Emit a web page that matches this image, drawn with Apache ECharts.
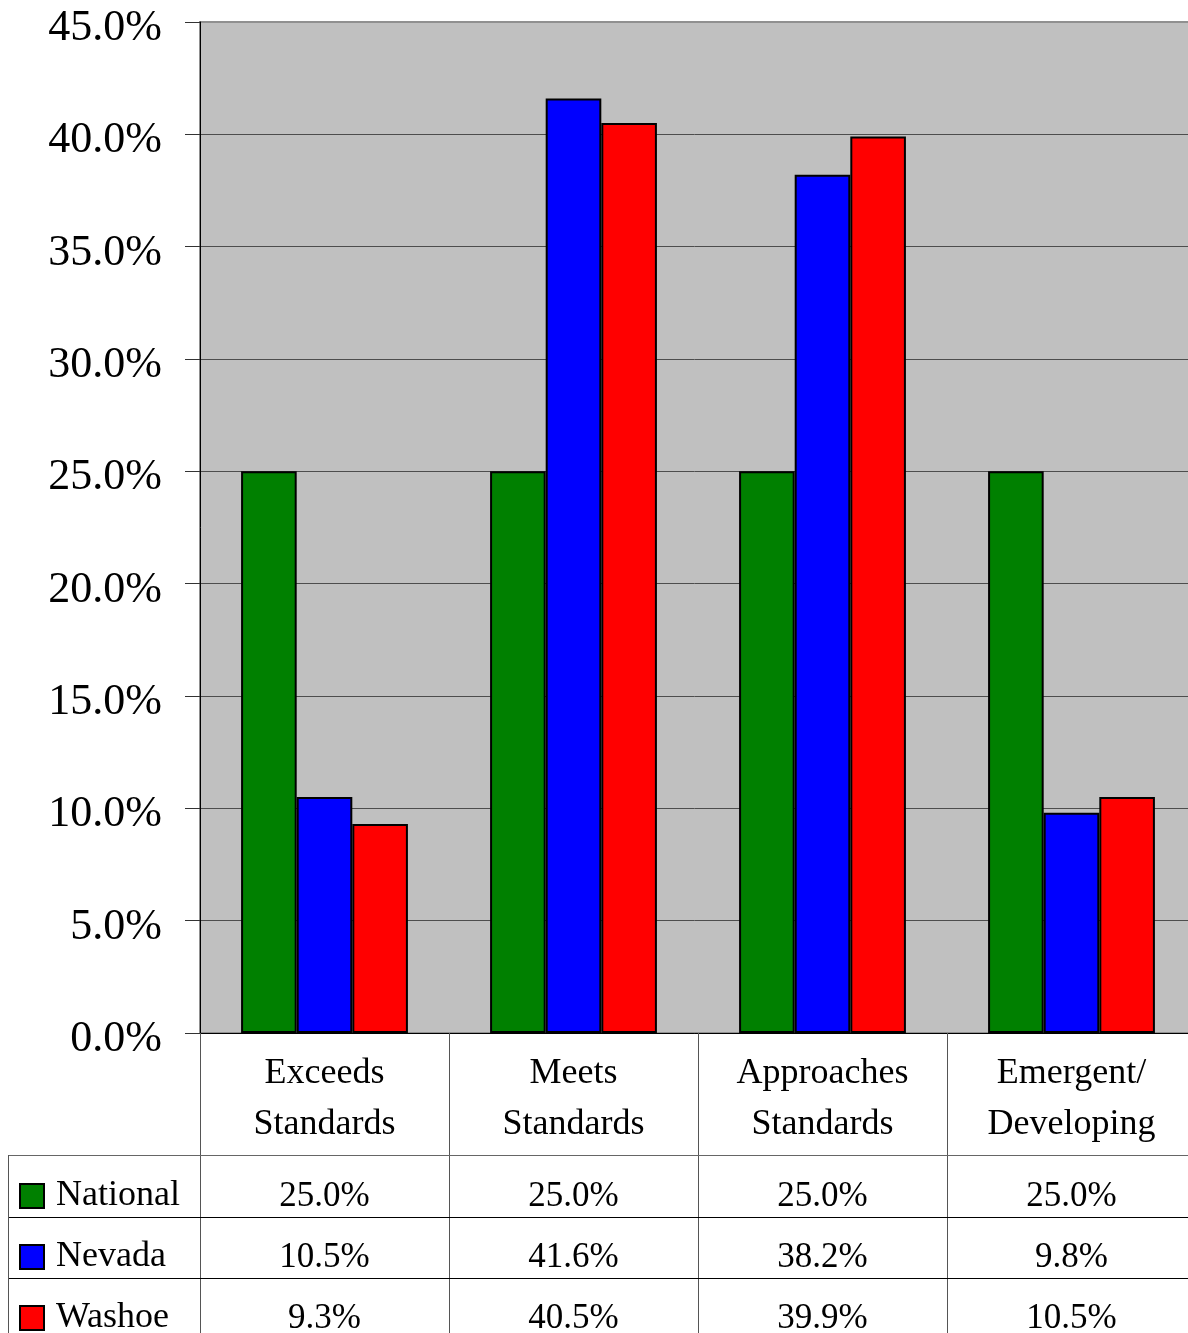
<!DOCTYPE html>
<html>
<head>
<meta charset="utf-8">
<script src="https://cdn.jsdelivr.net/npm/echarts@6/dist/echarts.min.js"></script>
<style>
html,body{margin:0;padding:0;background:#fff;}
#chart{width:1188px;height:1333px;}
</style>
</head>
<body>
<div id="chart"></div>
<script>
const categories = ['Exceeds\nStandards', 'Meets\nStandards', 'Approaches\nStandards', 'Emergent/\nDeveloping'];
const seriesNames = ['National', 'Nevada', 'Washoe'];
const national = [25.0, 25.0, 25.0, 25.0];
const nevada = [10.5, 41.6, 38.2, 9.8];
const washoe = [9.3, 40.5, 39.9, 10.5];
const yMin = 0, yMax = 45, yStep = 5;

const FONT = 'Liberation Serif';
const colors = ['#008000', '#0000ff', '#ff0000'];
const values = [national, nevada, washoe];
const fmt = v => v.toFixed(1) + '%';

const GRID_LEFT = 200, GRID_TOP = 22, GRID_W = 996, GRID_H = 1011;
const ROW_CENTERS = [1195, 1256, 1317];
const ROW_LINES = [1155, 1217, 1278];

const chart = echarts.init(document.getElementById('chart'));

const xAxes = [{
  type: 'category',
  data: categories,
  position: 'bottom',
  axisLine: { show: true, lineStyle: { color: '#000', width: 1 } },
  axisTick: { show: true, alignWithLabel: false, length: 300, lineStyle: { color: '#555', width: 1 } },
  axisLabel: {
    fontFamily: FONT, fontSize: 36, color: '#000', lineHeight: 51,
    verticalAlign: 'middle', margin: 66, interval: 0
  },
  splitLine: { show: false }
}];
values.forEach((arr, i) => {
  xAxes.push({
    type: 'category',
    data: arr.map(fmt),
    position: 'bottom',
    axisLine: { show: false },
    axisTick: { show: false },
    splitLine: { show: false },
    axisLabel: {
      fontFamily: FONT, fontSize: 35, color: '#000',
      verticalAlign: 'middle', margin: ROW_CENTERS[i] - (GRID_TOP + GRID_H) + 2, interval: 0
    }
  });
});

const graphics = [];
ROW_LINES.forEach((y, i) => {
  graphics.push({
    type: 'line', silent: true, z: 10,
    shape: { x1: 8, y1: y + 0.5, x2: 1188, y2: y + 0.5 },
    style: { stroke: i === 0 ? '#666' : '#000', lineWidth: 1 }
  });
});
graphics.push({
  type: 'line', silent: true, z: 10,
  shape: { x1: 8.5, y1: ROW_LINES[0], x2: 8.5, y2: 1333 },
  style: { stroke: '#555', lineWidth: 1 }
});

chart.setOption({
  backgroundColor: '#fff',
  animation: false,
  grid: {
    left: GRID_LEFT, top: GRID_TOP, width: GRID_W, height: GRID_H,
    outerBoundsMode: 'none', containLabel: false,
    show: true, backgroundColor: '#c0c0c0', borderColor: '#909090', borderWidth: 2
  },
  legend: {
    orient: 'vertical',
    left: 14, top: ROW_CENTERS[0] - 20 - 4, height: 220,
    itemWidth: 24, itemHeight: 24, itemGap: 21,
    icon: 'rect',
    data: seriesNames,
    itemStyle: { borderColor: '#000', borderWidth: 2 },
    textStyle: { fontFamily: FONT, fontSize: 36, color: '#000', lineHeight: 40, padding: [0, 0, 0, 7] }
  },
  xAxis: xAxes,
  yAxis: {
    type: 'value',
    min: yMin, max: yMax, interval: yStep,
    axisLine: { show: true, lineStyle: { color: '#000', width: 1 } },
    axisTick: { show: true, length: 15, lineStyle: { color: '#333' } },
    axisLabel: {
      fontFamily: FONT, fontSize: 44, color: '#000', margin: 38,
      verticalAlign: 'middle',
      formatter: v => '{a|' + v.toFixed(1) + '%}',
      rich: { a: { fontFamily: FONT, fontSize: 44, color: '#000', padding: [13, 0, 0, 0] } }
    },
    splitLine: { show: true, showMaxLine: false, lineStyle: { color: '#4d4d4d', width: 1 } }
  },
  series: seriesNames.map((name, i) => ({
    name: name,
    type: 'bar',
    xAxisIndex: 0,
    data: values[i],
    barGap: '0%',
    barCategoryGap: '33%',
    itemStyle: { color: colors[i], borderColor: '#000', borderWidth: 2 }
  })),
  graphic: graphics
});
</script>
</body>
</html>
